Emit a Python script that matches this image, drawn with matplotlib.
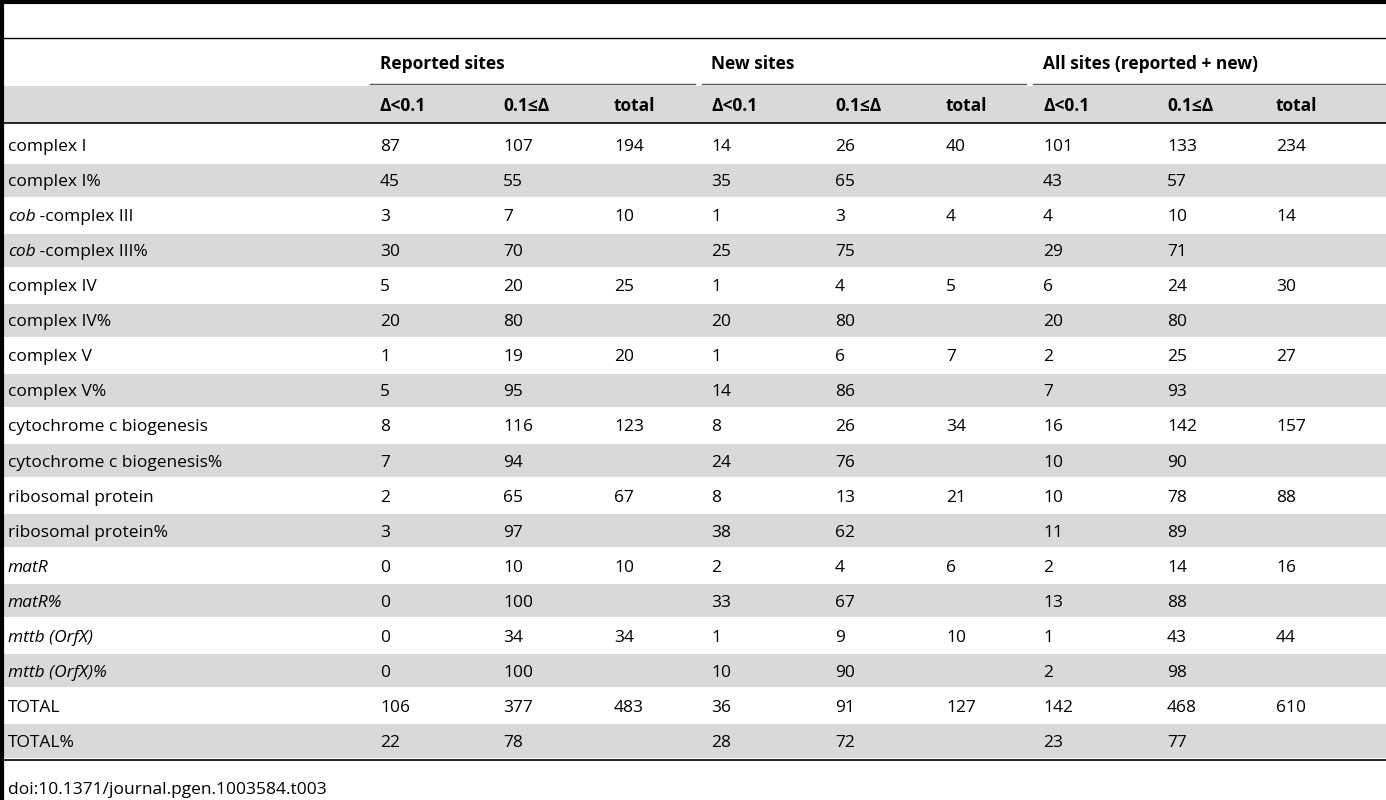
import matplotlib.pyplot as plt
from matplotlib.patches import Rectangle

plt.rcParams['font.family'] = ['Open Sans', 'DejaVu Sans']

groups = ['Reported sites', 'New sites', 'All sites (reported + new)']
subheads = ['Δ<0.1', '0.1≤Δ', 'total']
row_labels = ['complex I', 'complex I%', 'cob| -complex III', 'cob| -complex III%',
              'complex IV', 'complex IV%', 'complex V', 'complex V%',
              'cytochrome c biogenesis', 'cytochrome c biogenesis%',
              'ribosomal protein', 'ribosomal protein%',
              'matR|', 'matR%|', 'mttb (OrfX)|', 'mttb (OrfX)%|', 'TOTAL', 'TOTAL%']
reported = [['87', '107', '194'], ['45', '55', ''], ['3', '7', '10'], ['30', '70', ''],
            ['5', '20', '25'], ['20', '80', ''], ['1', '19', '20'], ['5', '95', ''],
            ['8', '116', '123'], ['7', '94', ''], ['2', '65', '67'], ['3', '97', ''],
            ['0', '10', '10'], ['0', '100', ''], ['0', '34', '34'], ['0', '100', ''],
            ['106', '377', '483'], ['22', '78', '']]
new = [['14', '26', '40'], ['35', '65', ''], ['1', '3', '4'], ['25', '75', ''],
       ['1', '4', '5'], ['20', '80', ''], ['1', '6', '7'], ['14', '86', ''],
       ['8', '26', '34'], ['24', '76', ''], ['8', '13', '21'], ['38', '62', ''],
       ['2', '4', '6'], ['33', '67', ''], ['1', '9', '10'], ['10', '90', ''],
       ['36', '91', '127'], ['28', '72', '']]
all_sites = [['101', '133', '234'], ['43', '57', ''], ['4', '10', '14'], ['29', '71', ''],
             ['6', '24', '30'], ['20', '80', ''], ['2', '25', '27'], ['7', '93', ''],
             ['16', '142', '157'], ['10', '90', ''], ['10', '78', '88'], ['11', '89', ''],
             ['2', '14', '16'], ['13', '88', ''], ['1', '43', '44'], ['2', '98', ''],
             ['142', '468', '610'], ['23', '77', '']]
footer = 'doi:10.1371/journal.pgen.1003584.t003'

W, H = 1386, 800
fig = plt.figure(figsize=(W / 100, H / 100), dpi=100)
ax = fig.add_axes([0, 0, 1, 1])
ax.set_xlim(0, W)
ax.set_ylim(H, 0)
ax.axis('off')

gray = '#d9d9d9'
fs = 12.5
col_x = [380, 503, 614, 711, 835, 946, 1043, 1167, 1276]
group_x = [380, 711, 1043]
seg = [(370, 695), (702, 1026), (1033, 1386)]
row_y0 = 145
row_h = (741 - 145) / 17

# frame lines
ax.plot([0, W], [2, 2], color='black', lw=3)
ax.plot([2, 2], [0, H], color='black', lw=3)
ax.plot([4, W], [37.5, 37.5], color='black', lw=1)
ax.plot([4, W], [760, 760], color='black', lw=1.2)

# header
for gx, g in zip(group_x, groups):
    ax.text(gx, 62, g, fontsize=fs, fontweight='bold', va='center_baseline', ha='left')
for a, b in seg:
    ax.plot([a, b], [84, 84], color='#555555', lw=1)
ax.add_patch(Rectangle((4, 86), W - 4, 36, color=gray, lw=0))
for i, x in enumerate(col_x):
    ax.text(x, 104, subheads[i % 3], fontsize=fs, fontweight='bold', va='center_baseline', ha='left')
ax.plot([4, W], [123, 123], color='black', lw=1.2)

fig.canvas.draw()
renderer = fig.canvas.get_renderer()

for r, label in enumerate(row_labels):
    y = row_y0 + r * row_h
    if r % 2 == 1:
        ax.add_patch(Rectangle((4, y - row_h / 2 + 1), W - 4, row_h - 2, color=gray, lw=0))
    if '|' in label:
        it, rest = label.split('|')
        if it.startswith('cob'):
            it, rest = 'cob', it[3:] + rest
        t = ax.text(8, y, it, fontsize=fs, style='italic', va='center_baseline', ha='left')
        if rest:
            bb = t.get_window_extent(renderer)
            ax.text(bb.x1 - 1, y, rest, fontsize=fs, va='center_baseline', ha='left')
    else:
        ax.text(8, y, label, fontsize=fs, va='center_baseline', ha='left')
    vals = reported[r] + new[r] + all_sites[r]
    for x, v in zip(col_x, vals):
        ax.text(x, y, v, fontsize=fs, va='center_baseline', ha='left')

ax.text(8, 788, footer, fontsize=fs, va='center_baseline', ha='left')

fig.savefig('out.png', dpi=100)
